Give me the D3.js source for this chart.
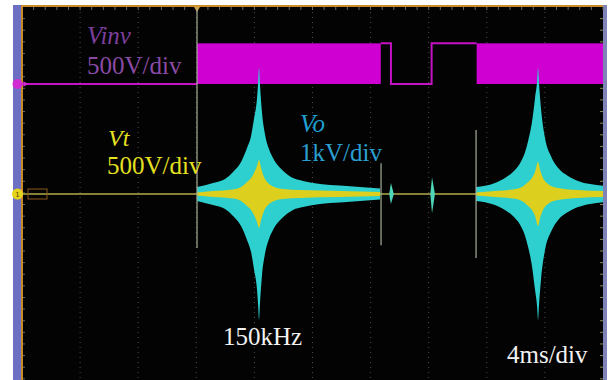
<!DOCTYPE html>
<html>
<head>
<meta charset="utf-8">
<script src="https://cdn.jsdelivr.net/npm/d3@7"></script>
<style>
  html, body { margin: 0; padding: 0; background: #ffffff; }
  svg { display: block; }
</style>
</head>
<body>
<svg id="scope" width="610" height="380"></svg>
<script>
// ---- Time base: 4 ms/div, 10 divisions ----
const timeDivs = d3.range(0, 41, 4);          // ms, graticule lines

// ---- Vinv (inverter output, 500 V/div) ----
const vinvStart = [0, 12.05, 24.7, 25.4, 28.2, 31.3];
const vinvEnd   = [12.05, 24.7, 25.4, 28.2, 31.3, 40];
const vinvState = ["low", "pwm", "high", "low", "high", "pwm"];
const vinvHigh  = 350;                        // V

// ---- Vo (1 kV/div) envelope, two bursts: time (ms) / half amplitude (V) ----
const voBurst1T = [12.05, 13.15, 13.98, 14.53, 15.08, 15.49, 15.77, 15.97, 16.18, 16.25, 16.32, 16.39, 16.52, 16.73, 17.01, 17.28, 17.97, 18.66, 19.35, 20.52, 21.89, 23.27, 24.65];
const voBurst1A = [120, 190, 260, 380, 550, 790, 1000, 1290, 1650, 1890, 2170, 1860, 1410, 1030, 770, 620, 400, 275, 225, 170, 145, 120, 95];
const voBurst2T = [31.26, 31.88, 32.56, 33.25, 33.80, 34.29, 34.63, 34.84, 35.11, 35.32, 35.46, 35.53, 35.60, 35.74, 36.01, 36.42, 36.90, 37.59, 38.28, 39.11, 40.0];
const voBurst2A = [120, 140, 190, 275, 380, 530, 720, 910, 1240, 1650, 1930, 2170, 1890, 1450, 960, 650, 450, 310, 225, 170, 140];

// ---- Vt (500 V/div) envelope ----
const vtBurst1T = [12.05, 13.15, 14.53, 15.08, 15.49, 15.77, 15.97, 16.18, 16.32, 16.46, 16.66, 16.94, 17.28, 17.97, 19.14, 21.89, 24.65];
const vtBurst1A = [13, 26, 39, 60, 103, 138, 181, 241, 293, 224, 146, 95, 65, 43, 34, 26, 17];
const vtBurst2T = [31.26, 32.56, 33.80, 34.42, 34.84, 35.11, 35.32, 35.53, 35.67, 35.87, 36.21, 36.90, 38.28, 40.0];
const vtBurst2A = [13, 26, 39, 60, 103, 138, 189, 275, 206, 138, 86, 52, 34, 26];

// ---- switching transients on Vo (ms, V above / below ground) ----
const edgeT    = [12.05, 24.72, 31.26];
const edgeUp   = [3220, 530, 1100];
const edgeDown = [930, 880, 1100];
const blipT    = [25.4, 28.23];
const blipUp   = [190, 290];
const blipDown = [170, 330];

// ---- text ----
const labelVinv = ["Vinv", "500V/div"];
const labelVt   = ["Vt", "500V/div"];
const labelVo   = ["Vo", "1kV/div"];
const labelFreq = "150kHz";
const labelTime = "4ms/div";

// ---- layout ----
const svg = d3.select("#scope");
const scrLeft = 22, scrRight = 603, scrTop = 7, scrBottom = 380;
const divPx = (scrRight - scrLeft) / 10;
const gndVinv = 84, gndCh1 = 194;

const x = d3.scaleLinear().domain([0, 40]).range([scrLeft, scrRight]);
const yVinv = d3.scaleLinear().domain([0, 500]).range([gndVinv, gndVinv - divPx]);
const yVo   = d3.scaleLinear().domain([0, 1000]).range([gndCh1, gndCh1 - divPx]);
const yVt   = d3.scaleLinear().domain([0, 500]).range([gndCh1, gndCh1 - divPx]);

// screen background and bezel strips
svg.append("rect").attr("x", 13).attr("y", 5).attr("width", 8.5).attr("height", 375).attr("fill", "#6d70c2");
svg.append("rect").attr("x", 602).attr("y", 5).attr("width", 5).attr("height", 375).attr("fill", "#7f83b8");
svg.append("rect").attr("x", scrLeft).attr("y", scrTop).attr("width", scrRight - scrLeft).attr("height", scrBottom - scrTop).attr("fill", "#030303");

// graticule
const grid = svg.append("g");
grid.selectAll("line.v").data(timeDivs.slice(1, -1)).join("line")
  .attr("x1", d => x(d)).attr("x2", d => x(d))
  .attr("y1", scrTop).attr("y2", scrBottom)
  .attr("stroke", "#4a4a4a").attr("stroke-width", 1).attr("stroke-dasharray", "1,4");

// border ticks (5 minor per division)
const minor = d3.range(0, 40.01, 0.8);
grid.selectAll("line.tt").data(minor).join("line")
  .attr("x1", d => x(d)).attr("x2", d => x(d))
  .attr("y1", scrTop).attr("y2", scrTop + 3)
  .attr("stroke", "#6a6a5a").attr("stroke-width", 1);
const sideTicks = d3.range(scrTop + 11.6, scrBottom, divPx / 5);
grid.selectAll("line.lt").data(sideTicks).join("line")
  .attr("x1", scrLeft).attr("x2", scrLeft + 3)
  .attr("y1", d => d).attr("y2", d => d)
  .attr("stroke", "#6a6a5a").attr("stroke-width", 1);
grid.selectAll("line.rt").data(sideTicks).join("line")
  .attr("x1", scrRight - 3).attr("x2", scrRight)
  .attr("y1", d => d).attr("y2", d => d)
  .attr("stroke", "#8a8a50").attr("stroke-width", 1);

// frame edges
svg.append("line").attr("x1", scrLeft - 1).attr("x2", scrRight).attr("y1", scrTop - 1).attr("y2", scrTop - 1)
  .attr("stroke", "#c98a2a").attr("stroke-width", 2);
svg.append("line").attr("x1", scrLeft).attr("x2", scrLeft).attr("y1", scrTop - 1).attr("y2", scrBottom)
  .attr("stroke", "#c98a2a").attr("stroke-width", 2);

// trigger marker
svg.append("path")
  .attr("d", d3.symbol(d3.symbolTriangle, 22)())
  .attr("transform", `translate(${x(12.05)},${scrTop + 1}) rotate(180)`)
  .attr("fill", "#d89a30");

// ---- Vinv trace ----
const vinv = svg.append("g");
vinvState.forEach((s, i) => {
  if (s === "pwm") {
    vinv.append("rect")
      .attr("x", x(vinvStart[i])).attr("width", x(vinvEnd[i]) - x(vinvStart[i]))
      .attr("y", yVinv(vinvHigh)).attr("height", yVinv(0) - yVinv(vinvHigh))
      .attr("fill", "#cf00d2");
  }
});
const stepPts = [];
vinvState.forEach((s, i) => {
  if (s !== "pwm") {
    const v = s === "high" ? vinvHigh : 0;
    stepPts.push([vinvStart[i], v], [vinvEnd[i], v]);
  } else {
    stepPts.push([NaN, 0]);
  }
});
vinv.append("path")
  .attr("d", d3.line().defined(d => !isNaN(d[0])).x(d => x(d[0])).y(d => yVinv(d[1]))(stepPts))
  .attr("fill", "none").attr("stroke", "#c512c5").attr("stroke-width", 2);

// ---- Ch1 baseline ----
svg.append("line").attr("x1", scrLeft).attr("x2", scrRight).attr("y1", yVt(0)).attr("y2", yVt(0))
  .attr("stroke", "#b4ad4a").attr("stroke-width", 1.5);

// ---- envelopes ----
function env(ts, as, y) {
  return d3.area().curve(d3.curveMonotoneX)
    .x(d => x(d[0])).y0(d => y(-d[1])).y1(d => y(d[1]))(ts.map((t, i) => [t, as[i]]));
}
const envG = svg.append("g");
[[voBurst1T, voBurst1A], [voBurst2T, voBurst2A]].forEach(([t, a]) => {
  envG.append("path").attr("d", env(t, a, yVo)).attr("fill", "#2dcfcf");
});
[[vtBurst1T, vtBurst1A], [vtBurst2T, vtBurst2A]].forEach(([t, a]) => {
  envG.append("path").attr("d", env(t, a, yVt)).attr("fill", "#dccf1e");
});

// transients at switching edges
envG.selectAll("line.edge").data(edgeT).join("line")
  .attr("x1", d => x(d)).attr("x2", d => x(d))
  .attr("y1", (d, i) => yVo(edgeUp[i])).attr("y2", (d, i) => yVo(-edgeDown[i]))
  .attr("stroke", "#a6b09a").attr("stroke-opacity", 0.85).attr("stroke-width", 1.4);
blipT.forEach((t, i) => {
  const up = [[t - 0.12, 0], [t, blipUp[i]], [t + 0.2, 0]];
  const down = [[t - 0.12, 0], [t, blipDown[i]], [t + 0.2, 0]];
  envG.append("path")
    .attr("d", d3.area().x(d => x(d[0])).y0(() => yVo(0)).y1(d => yVo(d[1]))(up))
    .attr("fill", "#4fd6b8");
  envG.append("path")
    .attr("d", d3.area().x(d => x(d[0])).y0(() => yVo(0)).y1(d => yVo(-d[1]))(down))
    .attr("fill", "#4fd6b8");
});

// ---- ground markers ----
svg.append("circle").attr("cx", 17.5).attr("cy", yVinv(0)).attr("r", 5).attr("fill", "#d22ad2");
svg.append("path").attr("d", d3.symbol(d3.symbolTriangle, 14)())
  .attr("transform", `translate(${scrLeft + 3},${yVinv(0)}) rotate(90)`).attr("fill", "#d22ad2");
svg.append("circle").attr("cx", 17.5).attr("cy", yVt(0)).attr("r", 5.5).attr("fill", "#e6d41c");
svg.append("text").attr("x", 17.5).attr("y", yVt(0) + 3).attr("text-anchor", "middle")
  .attr("font-family", "DejaVu Sans").attr("font-size", 7).attr("fill", "#5a4a00").text("1");
svg.append("rect").attr("x", 28).attr("y", yVt(0) - 5).attr("width", 19).attr("height", 10)
  .attr("fill", "none").attr("stroke", "#8a5a1a").attr("stroke-width", 1);

// ---- labels ----
const serif = "'Liberation Serif', 'Times New Roman', serif";
function label(str, lx, ly, color, italic, size) {
  svg.append("text").attr("x", lx).attr("y", ly)
    .attr("font-family", serif).attr("font-size", size || 25)
    .attr("font-style", italic ? "italic" : "normal")
    .attr("fill", color).text(str);
}
label(labelVinv[0], 87, 44, "#7a3f9a", true);
label(labelVinv[1], 87, 74, "#8a4aa4", false);
label(labelVt[0], 108, 146, "#e6e020", true, 24);
label(labelVt[1], 107, 174, "#e6e020", false);
label(labelVo[0], 300, 132, "#1f9fd2", true);
label(labelVo[1], 300, 161, "#2a9fd0", false);
label(labelFreq, 223, 345, "#f2f2f2", false);
label(labelTime, 507, 363, "#f2f2f2", false);
</script>
</body>
</html>
